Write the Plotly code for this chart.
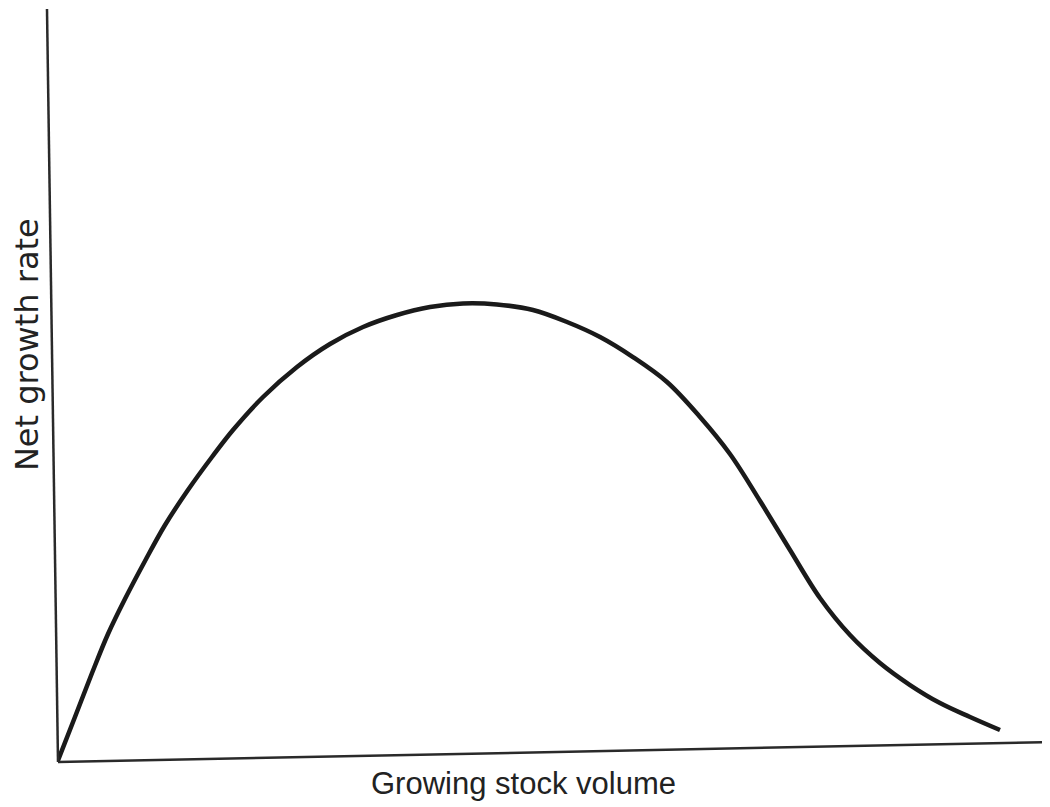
import plotly.graph_objects as go

# Curve values (arbitrary units, origin at the axes corner)
stock_volume = [0, 1.71, 3.43, 5.04, 6.75, 8.77, 10.79, 13.10, 15.52, 17.64,
                20.67, 24.09, 27.42, 30.75, 34.17, 37.50, 40.83, 44.25, 47.88,
                51.31, 54.64, 57.96, 61.39, 64.72, 67.74, 70.77, 73.79, 76.81,
                79.84, 82.86, 85.89, 88.91, 91.94, 94.96]
net_growth = [0.2, 5.97, 11.80, 16.98, 21.62, 26.66, 31.43, 36.07, 40.45, 44.03,
              48.41, 52.39, 55.44, 57.69, 59.28, 60.34, 60.81, 60.68, 59.95,
              58.36, 56.37, 53.71, 50.40, 45.76, 40.85, 34.62, 28.12, 21.75,
              16.84, 13.13, 10.21, 7.82, 5.97, 4.24]

x_title = "Growing stock volume"
y_title = "Net growth rate"

fig = go.Figure()
fig.add_trace(go.Scatter(
    x=stock_volume, y=net_growth, mode="lines",
    line=dict(color="#1a1a1a", width=4.5, shape="spline", smoothing=1.0,
              simplify=False),
    hoverinfo="skip", showlegend=False,
))

# Hand-drawn (slightly tilted) axes of the scanned figure
fig.add_shape(type="line", xref="paper", yref="paper",
              x0=-0.0111, y0=0.9987, x1=0, y1=0,
              line=dict(color="#2a2a2a", width=2.5))
fig.add_shape(type="line", xref="paper", yref="paper",
              x0=0, y0=0, x1=1.0, y1=0.0265,
              line=dict(color="#2a2a2a", width=2.5))

fig.add_annotation(text=x_title, xref="paper", yref="paper",
                   x=0.469, y=-0.0279, showarrow=False,
                   xanchor="center", yanchor="middle",
                   font=dict(family="Liberation Sans, Arial, sans-serif",
                             size=31, color="#222222"))
fig.add_annotation(text=y_title, xref="paper", yref="paper",
                   x=-0.0312, y=0.553, showarrow=False, textangle=-90,
                   xanchor="center", yanchor="middle",
                   font=dict(family="DejaVu Sans, sans-serif",
                             size=32, color="#222222"))

fig.update_xaxes(range=[0, 100], visible=False, fixedrange=True)
fig.update_yaxes(range=[0, 100], visible=False, fixedrange=True)
fig.update_layout(
    width=1042, height=799,
    margin=dict(l=50, r=0, t=0, b=45),
    paper_bgcolor="white", plot_bgcolor="white",
)

fig.write_html("out.html")
